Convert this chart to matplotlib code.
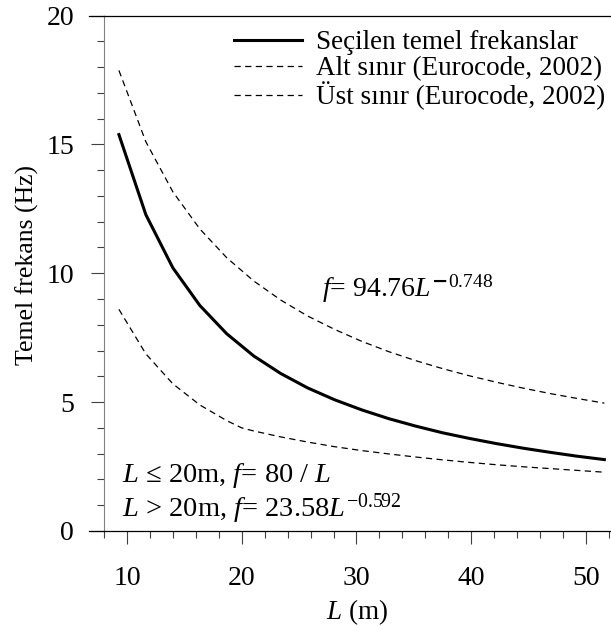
import matplotlib
matplotlib.use("Agg")
import matplotlib.pyplot as plt
from matplotlib.ticker import MultipleLocator

plt.rcParams['font.family'] = ['Liberation Serif', 'DejaVu Serif']
plt.rcParams['mathtext.fontset'] = 'custom'
plt.rcParams['mathtext.rm'] = 'Liberation Serif'
plt.rcParams['mathtext.it'] = 'Liberation Serif:italic'

# span lengths (m)
L = [9.3, 11.65, 14.0, 16.35, 18.7, 21.05, 23.4, 25.75, 28.1, 30.45,
     32.8, 35.15, 37.5, 39.85, 42.2, 44.55, 46.9, 49.25, 51.6]
# selected fundamental frequencies (Hz)
f_secilen = [15.38, 12.27, 10.21, 8.75, 7.65, 6.79, 6.11, 5.55, 5.09, 4.70,
             4.36, 4.07, 3.81, 3.59, 3.39, 3.21, 3.05, 2.90, 2.77]
# lower bound (Eurocode, 2002)
L_alt = [9.3, 11.65, 14.0, 16.35, 18.7, 20.0, 21.05, 23.4, 25.75, 28.1, 30.45,
         32.8, 35.15, 37.5, 39.85, 42.2, 44.55, 46.9, 49.25, 51.6]
f_alt = [8.60, 6.87, 5.71, 4.89, 4.28, 4.00, 3.88, 3.65, 3.45, 3.27, 3.12,
         2.99, 2.87, 2.76, 2.66, 2.57, 2.49, 2.42, 2.35, 2.28]
# upper bound (Eurocode, 2002)
f_ust = [17.87, 15.10, 13.16, 11.72, 10.60, 9.70, 8.96, 8.34, 7.82, 7.36,
         6.96, 6.61, 6.30, 6.02, 5.77, 5.54, 5.33, 5.14, 4.96]

fig = plt.figure(figsize=(6.11, 6.26), dpi=100)
ax = fig.add_axes([0.1702, 0.1518, 0.8298, 0.8234])

ax.plot(L, f_secilen, color='black', lw=2.2, label='Seçilen temel frekanslar')
ax.plot(L_alt, f_alt, color='black', lw=0.9, dashes=(5, 3.5),
        label='Alt sınır (Eurocode, 2002)')
ax.plot(L, f_ust, color='black', lw=0.9, dashes=(5, 3.5),
        label='Üst sınır (Eurocode, 2002)')

ax.set_xlim(8, 52.18)
ax.set_ylim(0, 20)
ax.xaxis.set_major_locator(MultipleLocator(10))
ax.xaxis.set_minor_locator(MultipleLocator(2))
ax.yaxis.set_major_locator(MultipleLocator(5))
ax.yaxis.set_minor_locator(MultipleLocator(1))

ax.spines['right'].set_visible(False)
ax.spines['left'].set_color('0.5')
ax.spines['top'].set_linewidth(0.9)
ax.spines['bottom'].set_linewidth(0.9)

ax.tick_params(axis='both', which='major', direction='out', length=9.5,
               width=0.8, color='0.25', labelsize=20)
ax.tick_params(axis='both', which='minor', direction='out', length=5,
               width=0.8, color='0.25')
ax.tick_params(axis='x', which='major', pad=16)
ax.tick_params(axis='y', which='major', pad=12)
ax.tick_params(top=False, right=False, which='both')

# top and bottom lines reach a bit left of the y axis
ax.plot([-0.03, 0], [1, 1], transform=ax.transAxes, color='black', lw=0.9,
        clip_on=False)
ax.plot([-0.03, 0], [0, 0], transform=ax.transAxes, color='black', lw=0.9,
        clip_on=False)

ax.set_ylabel('Temel frekans (Hz)', fontsize=18.5)
ax.yaxis.set_label_coords(-0.128, 0.516)
ax.set_xlabel('$L$ (m)', fontsize=19.5)
ax.xaxis.set_label_coords(0.5, -0.128)

ax.legend(loc='upper right', bbox_to_anchor=(1.02, 1.003), frameon=False,
          fontsize=19.5, handlelength=2.5, handletextpad=0.5,
          labelspacing=0.03, borderaxespad=0.2)

ax.text(27.0, 9.1, r'$f$= 94.76$L^{\mathbf{-}0.748}$', fontsize=20)
ax.text(9.6, 1.9, r'$L$ ≤ 20m, $f$= 80 / $L$', fontsize=20.5)
ax.text(9.6, 0.55, r'$L$ > 20m, $f$= 23.58$L^{-0.592}$', fontsize=20.5)

fig.savefig('out.png', dpi=100)
